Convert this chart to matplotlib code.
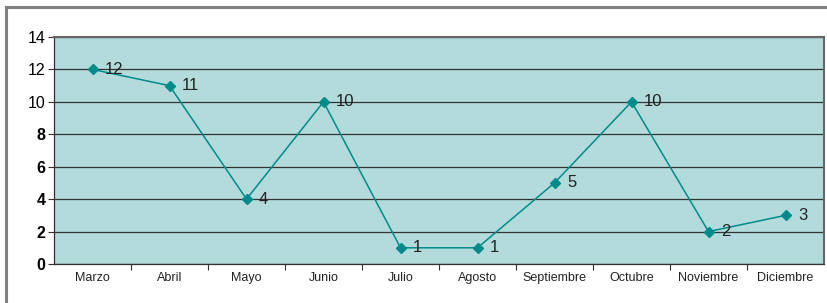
import matplotlib
matplotlib.use("Agg")
import matplotlib.pyplot as plt
from matplotlib.patches import Rectangle

meses = ["Marzo", "Abril", "Mayo", "Junio", "Julio", "Agosto",
         "Septiembre", "Octubre", "Noviembre", "Diciembre"]
valores = [12, 11, 4, 10, 1, 1, 5, 10, 2, 3]
yticks = [0, 2, 4, 6, 8, 10, 12, 14]

plt.rcParams["font.family"] = ["Liberation Sans", "DejaVu Sans"]

fig = plt.figure(figsize=(8.28, 3.03), dpi=100)
fig.patches.append(Rectangle((6/828, -0.05), 1.2, 1 - 7/303 + 0.05,
                             transform=fig.transFigure, fill=False,
                             edgecolor="#808080", linewidth=2.2))
ax = fig.add_axes([54/828, 1 - 264/303, 770/828, 227/303])
ax.set_facecolor("#b3dbdb")

x = range(len(meses))
ax.plot(x, valores, color="#008b8b", linewidth=1.1, marker="D", markersize=5.5,
        zorder=3)
for xi, v in zip(x, valores):
    ax.annotate(str(v), (xi, v), xytext=(9, 0), textcoords="offset points",
                va="center", ha="left", fontsize=12, color="#222222")

ax.set_xlim(-0.5, len(meses) - 0.5)
ax.set_ylim(0, 14)
ax.set_yticks(yticks)
ax.set_yticklabels([str(t) for t in yticks], fontsize=11.5)
for lbl, t in zip(ax.get_yticklabels(), yticks):
    if t <= 8:
        lbl.set_fontweight("bold")
ax.set_xticks([i + 0.5 for i in range(len(meses) - 1)])
ax.set_xticklabels([])
ax.set_xticks(list(x), minor=True)
ax.set_xticklabels(meses, minor=True, fontsize=9, color="#222222")
ax.tick_params(axis="x", which="minor", length=0, pad=6)
ax.tick_params(axis="x", which="major", length=4, color="#333333")
ax.tick_params(axis="y", length=4, color="#333333", pad=2)
ax.grid(axis="y", color="#333333", linewidth=0.9)
ax.set_axisbelow(True)
for s in ["top", "right"]:
    ax.spines[s].set_color("#666666")
    ax.spines[s].set_linewidth(1.5)
for s in ["left", "bottom"]:
    ax.spines[s].set_color("#333333")
    ax.spines[s].set_linewidth(0.9)

fig.savefig("out.png", dpi=100)
